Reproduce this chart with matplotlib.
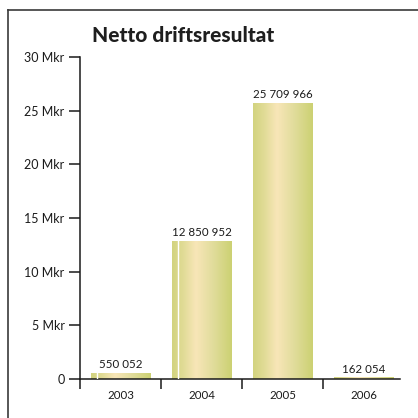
import numpy as np
import matplotlib
matplotlib.use("Agg")
import matplotlib.pyplot as plt
from matplotlib.colors import LinearSegmentedColormap
from matplotlib.lines import Line2D

plt.rcParams['font.family'] = ['Lato', 'DejaVu Sans']

years = ["2003", "2004", "2005", "2006"]
resultat = [550052, 12850952, 25709966, 162054]
labels = ["550 052", "12 850 952", "25 709 966", "162 054"]
yticks = [0, 5, 10, 15, 20, 25, 30]
ytick_labels = ["0", "5 Mkr", "10 Mkr", "15 Mkr", "20 Mkr", "25 Mkr", "30 Mkr"]

mkr = np.array(resultat) / 1e6
x = np.arange(len(years))

fig = plt.figure(figsize=(4.18, 4.18), dpi=100)
ax = fig.add_axes([80 / 418, 1 - 379 / 418, 320 / 418, 322 / 418])

bars = ax.bar(x, mkr, width=0.74, color="none", edgecolor="none", zorder=2)

grad = LinearSegmentedColormap.from_list(
    "olive", [(0.0, "#d2d37e"), (0.2, "#e2dc98"), (0.4, "#f8e6b8"),
              (0.7, "#e0dc9a"), (1.0, "#ccd172")])
g = np.linspace(0, 1, 256).reshape(1, -1)
for b in bars:
    x0, w, h = b.get_x(), b.get_width(), b.get_height()
    im = ax.imshow(g, cmap=grad, aspect="auto", extent=[x0, x0 + w, 0, h],
                   zorder=2, interpolation="bicubic")
    im.set_clip_path(b)

# thin white seams seen on the first two bars
for b in bars[:2]:
    sx = b.get_x() + 0.075
    ax.plot([sx, sx], [0, b.get_height()], color="white", lw=1.0, zorder=3)

for b, lab in zip(bars, labels):
    ax.text(b.get_x() + b.get_width() / 2, b.get_height() + 0.25, lab,
            ha="center", va="bottom", fontsize=8.3, color="#1a1a1a", zorder=4)

ax.set_xlim(-0.5, 3.45)
ax.set_ylim(0, 30)

ax.set_yticks(yticks)
ax.set_yticklabels(ytick_labels, fontsize=9, color="#1a1a1a")
ax.tick_params(axis="y", direction="out", length=8, width=1.1, pad=3, color="#1a1a1a")

ax.set_xticks(np.arange(len(years)) - 0.5)
ax.set_xticklabels([])
ax.set_xticks(x, minor=True)
ax.set_xticklabels(years, minor=True, fontsize=8.3, color="#1a1a1a")
ax.tick_params(axis="x", which="major", direction="out", length=7.5, width=1.1,
               color="#1a1a1a")
ax.tick_params(axis="x", which="minor", length=0, pad=8)

for s in ["top", "right"]:
    ax.spines[s].set_visible(False)
for s in ["left", "bottom"]:
    ax.spines[s].set_linewidth(1.1)
    ax.spines[s].set_color("#1a1a1a")

fig.text(92 / 418, 1 - 42 / 418, "Netto driftsresultat", fontsize=15,
         fontweight="black", color="#1e1e1e", ha="left", va="baseline")

fig.add_artist(Line2D([8 / 418, 8 / 418], [0, 1 - 10 / 418], color="#3a3a3a", lw=1.2))
fig.add_artist(Line2D([8 / 418, 1], [1 - 10 / 418, 1 - 10 / 418], color="#3a3a3a", lw=1.2))

fig.savefig("out.png", dpi=100)
